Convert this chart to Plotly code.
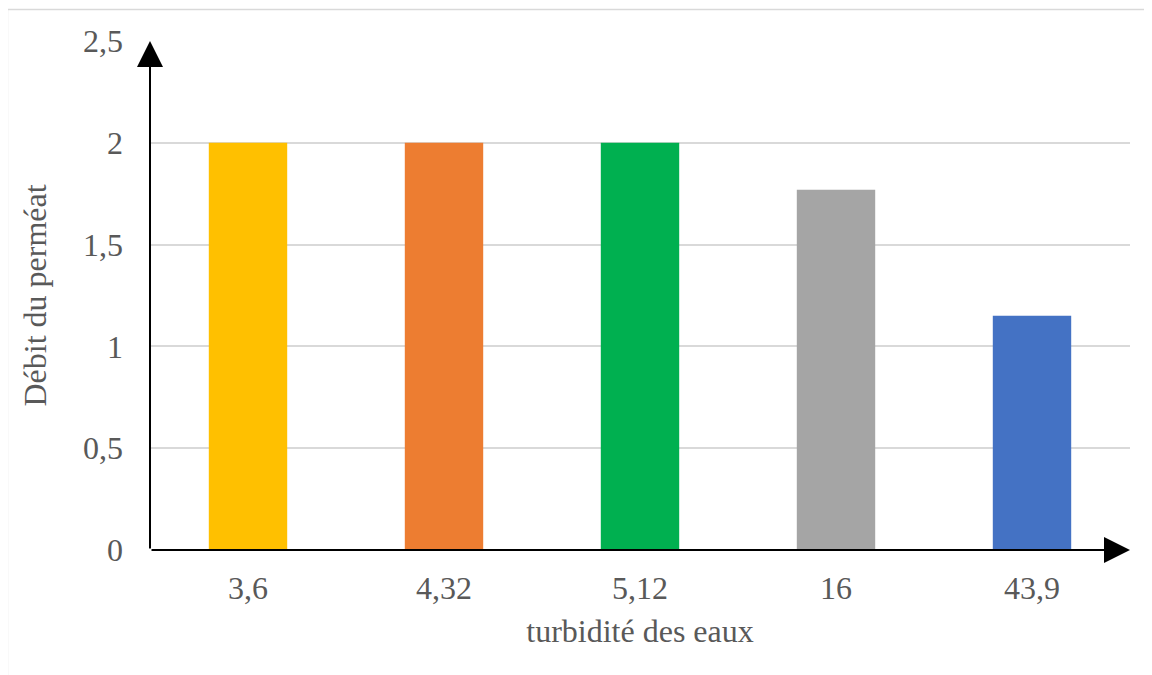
import plotly.graph_objects as go

# Data
turbidite = ['3,6', '4,32', '5,12', '16', '43,9']
debit = [2.0, 2.0, 2.0, 1.77, 1.15]
couleurs = ['#FFC000', '#ED7D31', '#00B050', '#A5A5A5', '#4472C4']
y_ticks = [0, 0.5, 1, 1.5, 2, 2.5]
y_labels = ['0', '0,5', '1', '1,5', '2', '2,5']

font_family = 'Liberation Serif, Times New Roman, serif'
text_color = '#595959'

fig = go.Figure()
fig.add_trace(go.Bar(x=turbidite, y=debit, marker=dict(color=couleurs, line=dict(width=0)),
                     showlegend=False))

# page body adds 8px offset, margins compensate
fig.update_layout(
    width=1152, height=675,
    margin=dict(l=142, r=30, t=33, b=133),
    paper_bgcolor='white', plot_bgcolor='white',
    bargap=0.6,
    font=dict(family=font_family, size=32, color=text_color),
)

fig.update_xaxes(
    type='category',
    showgrid=False, showline=False, zeroline=False,
    ticks='', ticklabelstandoff=16,
    title=dict(text='turbidité des eaux', font=dict(size=32, color=text_color), standoff=14),
)
fig.update_yaxes(
    range=[0, 2.5], tickvals=y_ticks, ticktext=y_labels,
    showgrid=True, gridcolor='#D9D9D9', gridwidth=1.5,
    showline=False, zeroline=False, ticks='', ticklabelstandoff=26,
    title=dict(text='Débit du perméat', font=dict(size=32, color=text_color), standoff=26),
)

# axis arrows
fig.add_annotation(x=0, y=1, xref='paper', yref='paper', ax=0, ay=509,
                   showarrow=True, arrowhead=2, arrowsize=2.6, arrowwidth=2,
                   arrowcolor='black', text='')
fig.add_annotation(x=1, y=0, xref='paper', yref='paper', ax=-980, ay=0,
                   showarrow=True, arrowhead=2, arrowsize=2.6, arrowwidth=2,
                   arrowcolor='black', text='')

# chart frame (partly cut off in the original)
fig.add_shape(type='rect', xref='paper', yref='paper',
              x0=-0.1455, x1=1.05, y0=-0.4, y1=1.062,
              line=dict(color='#D9D9D9', width=1.5), layer='below')

fig.write_html('out.html')
